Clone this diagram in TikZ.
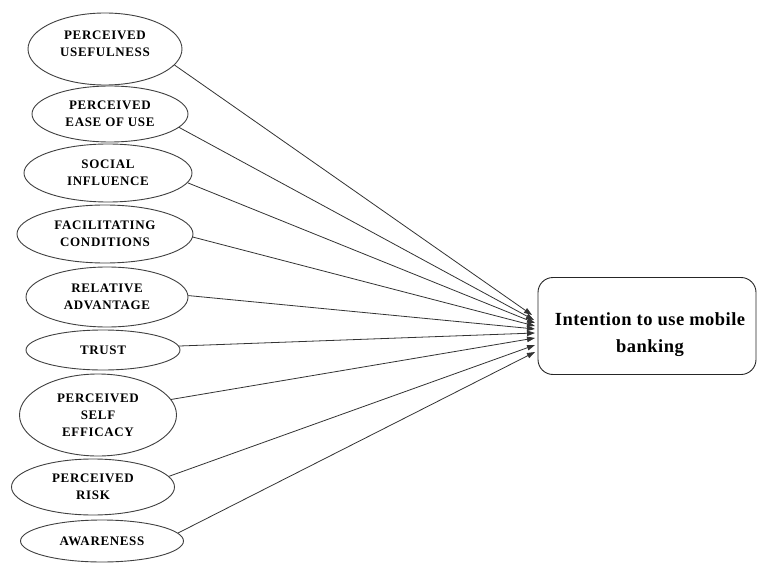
\documentclass[tikz,border=0pt]{standalone}
\usepackage{fontspec}
\setmainfont{Liberation Serif}
\newfontfamily\factorfont[LetterSpace=5]{Liberation Serif}
\newfontfamily\goalfont[LetterSpace=2.5]{Liberation Serif}
\usetikzlibrary{shapes.geometric,arrows.meta}
\begin{document}
\begin{tikzpicture}[x=1pt,y=-1pt,
 factor/.style={ellipse,draw=black!75,line width=0.9pt,inner sep=0pt,align=center,font=\factorfont\fontsize{13}{17}\selectfont\bfseries},
 goal/.style={draw=black!85,line width=0.9pt,rounded corners=15pt,minimum width=218pt,minimum height=97pt,align=center,inner sep=0pt,font=\goalfont\fontsize{18.5}{27}\selectfont\bfseries},
 link/.style={draw=black!80,line width=0.8pt,-{Triangle[length=8pt,width=5.5pt]}}]
\useasboundingbox[fill=white] (0,0) rectangle (757,564);

\node[factor,minimum width=154pt,minimum height=72pt,text depth=10pt] (pu) at (105,49) {PERCEIVED\\USEFULNESS};
\node[factor,minimum width=156pt,minimum height=56pt] (peou) at (110,114) {PERCEIVED\\EASE OF USE};
\node[factor,minimum width=168pt,minimum height=58pt] (si) at (108,173) {SOCIAL\\INFLUENCE};
\node[factor,minimum width=176pt,minimum height=58pt] (fc) at (105,234) {FACILITATING\\CONDITIONS};
\node[factor,minimum width=162pt,minimum height=60pt] (ra) at (107,297) {RELATIVE\\ADVANTAGE};
\node[factor,minimum width=154pt,minimum height=40pt] (tr) at (103,350) {TRUST};
\node[factor,minimum width=157pt,minimum height=82pt] (pse) at (98,415) {PERCEIVED\\SELF\\EFFICACY};
\node[factor,minimum width=163pt,minimum height=56pt] (pr) at (93,487) {PERCEIVED\\RISK};
\node[factor,minimum width=163pt,minimum height=42pt] (aw) at (102,541) {AWARENESS};

\node[goal] (int) at (647,326) {\hspace*{6pt}\rule{0pt}{30pt}Intention to use mobile\\\hspace*{6pt}banking};

\coordinate (t1) at (532,315);
\coordinate (t2) at (534,320);
\coordinate (t3) at (535,323);
\coordinate (t4) at (535,326);
\coordinate (t5) at (535,329);
\coordinate (t6) at (535,333);
\coordinate (t7) at (535,338);
\coordinate (t8) at (535,345);
\coordinate (t9) at (535,352);

\draw[link] (pu.-13) -- (t1);
\draw[link] (peou.-11) -- (t2);
\draw[link] (si.-7) -- (t3);
\draw[link] (fc.-2) -- (t4);
\draw[link] (ra.1) -- (t5);
\draw[link] (tr.3) -- (t6);
\draw[link] (pse.12) -- (t7);
\draw[link] (pr.8) -- (t8);
\draw[link] (aw.6) -- (t9);
\end{tikzpicture}
\end{document}
